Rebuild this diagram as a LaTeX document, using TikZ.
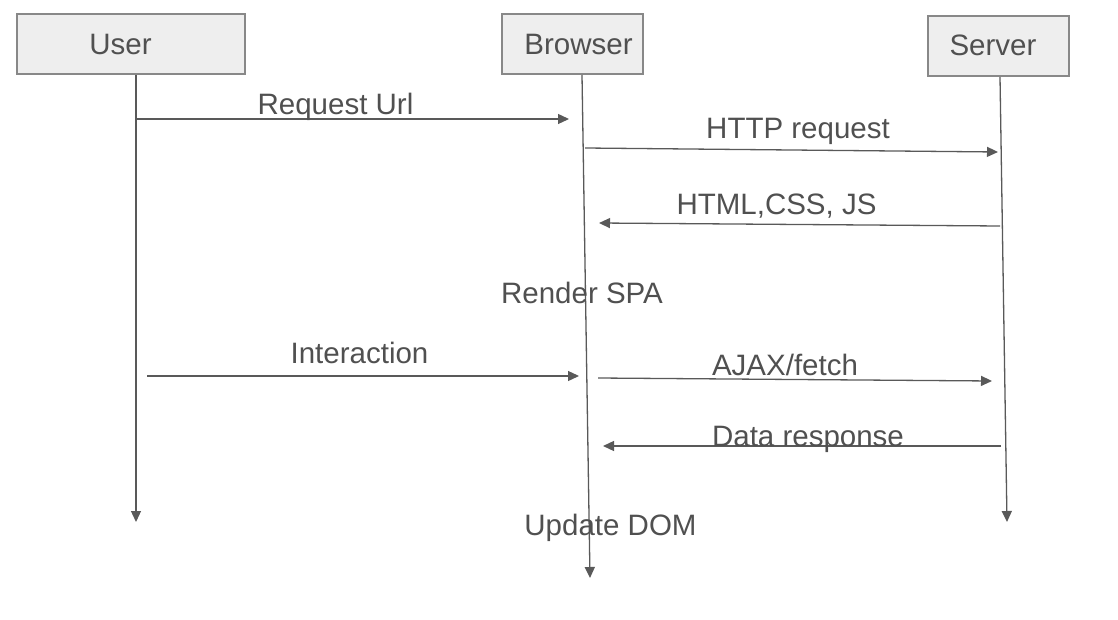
\documentclass[tikz,border=0pt]{standalone}
\usepackage{fontspec}
\setmainfont{Liberation Sans}
\usetikzlibrary{arrows.meta}
\definecolor{linegray}{HTML}{595959}
\definecolor{textgray}{HTML}{505050}
\definecolor{boxborder}{HTML}{888888}
\definecolor{boxfill}{HTML}{EEEEEE}

\begin{document}
\begin{tikzpicture}[x=1pt,y=-1pt,
    every node/.style={text=textgray,font=\fontsize{29.5}{34}\selectfont},
    actor/.style={draw=boxborder,fill=boxfill,line width=1.5pt,minimum height=60pt,inner sep=0pt},
    msg/.style={draw=linegray,line width=1.3pt,-{Triangle[length=11pt,width=10pt]}},
    txt/.style={anchor=base,inner sep=0pt}]

    \useasboundingbox (0,0) rectangle (1118,620);

    % actors
    \node[actor,minimum width=228pt] (user)    at (131,44)   {};
    \node[actor,minimum width=141pt] (browser) at (572.5,44) {};
    \node[actor,minimum width=141pt] (server)  at (998.5,46) {};
    \node[txt] (user name)    at (120.5,55) {User};
    \node[txt] (browser name) at (578.5,55) {Browser};
    \node[txt] (server name)  at (993,56)   {Server};

    % lifelines
    \coordinate (user top)    at (136,75);
    \coordinate (user end)    at (136,522);
    \coordinate (browser top) at (582,75);
    \coordinate (browser end) at (590,578);
    \coordinate (server top)  at (1000,77);
    \coordinate (server end)  at (1007,522);

    \draw (user top)    edge[msg] (user end);
    \draw (browser top) edge[msg] (browser end);
    \draw (server top)  edge[msg] (server end);

    % message ends
    \coordinate (u1) at (136,119);  \coordinate (b1) at (569,119);
    \coordinate (b2) at (585,148);  \coordinate (s2) at (998,152);
    \coordinate (s3) at (1000,226); \coordinate (b3) at (599,223);
    \coordinate (u4) at (147,376);  \coordinate (b4) at (579,376);
    \coordinate (b5) at (598,378);  \coordinate (s5) at (992,381);
    \coordinate (s6) at (1001,446); \coordinate (b6) at (603,446);

    \draw (u1) edge[msg] (b1);
    \draw (b2) edge[msg] (s2);
    \draw (s3) edge[msg] (b3);
    \draw (u4) edge[msg] (b4);
    \draw (b5) edge[msg] (s5);
    \draw (s6) edge[msg] (b6);

    % labels
    \node[txt] (request url)   at (335.5,115) {Request Url};
    \node[txt] (http request)  at (798,139)   {HTTP request};
    \node[txt] (html css js)   at (776.5,215) {HTML,CSS, JS};
    \node[txt] (render spa)    at (582,303)   {Render SPA};
    \node[txt] (interaction)   at (359.5,363) {Interaction};
    \node[txt] (ajax fetch)    at (785,375)   {AJAX/fetch};
    \node[txt] (data response) at (808,446)   {Data response};
    \node[txt] (update dom)    at (610.5,535) {Update DOM};
\end{tikzpicture}
\end{document}
